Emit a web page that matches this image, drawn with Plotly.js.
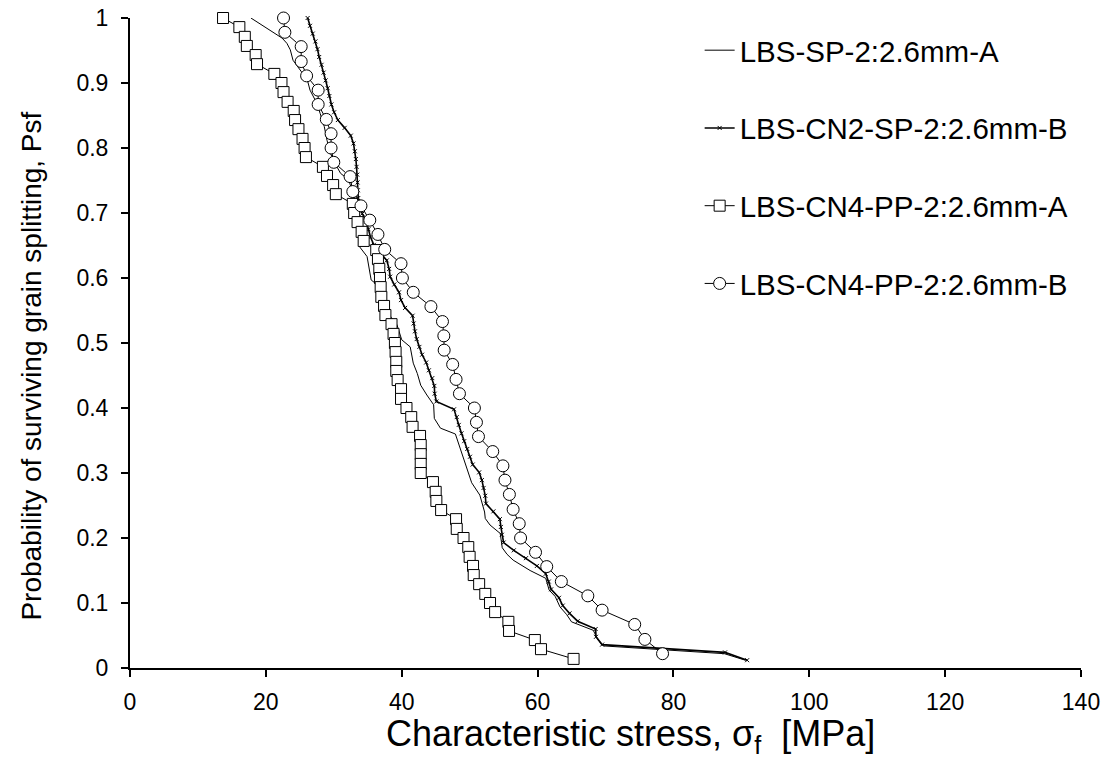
<!DOCTYPE html>
<html>
<head>
<meta charset="utf-8">
<script src="https://cdn.plot.ly/plotly-3.0.1.min.js"></script>
<style>html,body{margin:0;padding:0;background:#fff;}#chart{width:1110px;height:760px;}</style>
</head>
<body>
<div id="chart"></div>
<script>
// Series names
const seriesNames = ["LBS-SP-2:2.6mm-A", "LBS-CN2-SP-2:2.6mm-B", "LBS-CN4-PP-2:2.6mm-A", "LBS-CN4-PP-2:2.6mm-B"];
const xTitle = "Characteristic stress, σ<sub>f</sub>  [MPa]";
const yTitle = "Probability of surviving grain splitting, Psf";

// LBS-SP-2:2.6mm-A (plain line)
const spA_x = [17.8,22.4,23.1,23.6,24.0,24.8,26.1,26.5,27.5,28.0,28.6,29.0,29.5,30.2,31.0,32.2,32.7,33.2,33.5,33.8,34.9,35.5,36.1,37.3,38.4,39.3,40.0,41.25,41.7,42.3,42.8,43.7,44.7,44.8,45.7,47.9,48.4,49.4,50.3,51.5,52.2,52.3,53.0,54.5,54.8,55.5,56.4,58.9,61.2,61.7,62.6,63.3,64.3,65.0,68.2,68.9,69.7,87.5,90.6];
const spA_y = [1.0,0.969,0.961,0.951,0.935,0.923,0.905,0.889,0.869,0.853,0.833,0.812,0.792,0.776,0.761,0.751,0.733,0.717,0.68,0.648,0.633,0.597,0.592,0.565,0.540,0.528,0.505,0.494,0.469,0.453,0.435,0.420,0.405,0.384,0.369,0.360,0.344,0.315,0.285,0.266,0.240,0.230,0.220,0.207,0.185,0.175,0.166,0.150,0.138,0.120,0.110,0.094,0.082,0.071,0.058,0.043,0.034,0.022,0.012];

// LBS-CN2-SP-2:2.6mm-B (line with x markers)
const cn2B_x = [26.15,26.5,26.9,27.3,27.6,27.85,28.2,28.5,28.8,29.1,29.35,29.65,30.05,30.6,31.6,32.5,32.9,33.1,33.25,33.35,33.45,33.5,33.55,33.6,33.75,34.2,34.8,35.1,35.4,35.9,36.9,37.8,38.15,38.3,38.9,39.6,39.9,40.5,41.6,41.75,41.95,42.2,42.6,43.0,43.6,44.0,44.5,44.8,44.85,45.1,47.7,48.1,48.4,48.8,49.2,49.65,50.05,50.45,51.4,51.8,52.05,52.3,52.4,53.5,54.45,54.6,54.75,55.0,56.5,58.3,59.9,61.2,61.65,62.0,63.15,63.7,64.7,65.9,68.55,68.6,69.5,87.6,90.85];
const cn2B_y = [1.000,0.988,0.976,0.964,0.952,0.940,0.928,0.916,0.904,0.892,0.880,0.867,0.855,0.843,0.831,0.819,0.807,0.795,0.783,0.771,0.759,0.747,0.735,0.723,0.711,0.699,0.687,0.675,0.663,0.651,0.639,0.627,0.614,0.602,0.590,0.578,0.566,0.554,0.542,0.530,0.518,0.506,0.494,0.482,0.470,0.458,0.446,0.434,0.422,0.410,0.398,0.386,0.374,0.361,0.349,0.337,0.325,0.313,0.301,0.289,0.277,0.265,0.253,0.241,0.229,0.217,0.205,0.193,0.181,0.169,0.157,0.145,0.133,0.121,0.108,0.096,0.084,0.072,0.060,0.048,0.036,0.024,0.012];

// LBS-CN4-PP-2:2.6mm-A (squares)
const cn4A_x = [13.7,16.1,16.9,17.2,18.5,18.7,21.25,22.3,22.6,23.2,24.1,24.3,24.8,25.4,25.7,25.9,28.4,29.0,29.9,30.3,32.8,33.0,33.5,34.1,34.4,36.25,36.5,36.7,36.8,36.9,37.0,37.4,37.6,38.5,38.8,39.0,39.1,39.2,39.2,39.4,39.9,39.9,40.7,41.4,41.6,42.7,42.8,42.8,42.8,42.8,44.6,45.0,45.1,45.8,48.0,48.1,49.1,49.8,50.0,50.5,50.6,51.4,52.3,53.0,53.75,55.7,55.8,59.6,60.5,65.3];
const cn4A_y = [1.000,0.986,0.971,0.957,0.943,0.929,0.914,0.900,0.886,0.871,0.857,0.843,0.829,0.814,0.800,0.786,0.771,0.757,0.743,0.729,0.714,0.700,0.686,0.671,0.657,0.643,0.629,0.614,0.600,0.586,0.571,0.557,0.543,0.529,0.514,0.500,0.486,0.471,0.457,0.443,0.429,0.414,0.400,0.386,0.371,0.357,0.343,0.329,0.314,0.300,0.286,0.271,0.257,0.243,0.229,0.214,0.200,0.186,0.171,0.157,0.143,0.129,0.114,0.100,0.086,0.071,0.057,0.043,0.029,0.014];

// LBS-CN4-PP-2:2.6mm-B (circles)
const cn4B_x = [22.6,22.8,25.2,25.2,26.0,27.7,27.7,28.9,29.6,29.6,30.0,32.4,32.8,34.0,35.3,36.5,37.5,39.9,40.1,41.7,44.3,46.0,46.2,46.25,47.5,48.0,48.5,50.7,51.0,51.3,53.4,54.9,55.2,55.85,56.4,57.3,57.5,59.7,61.35,63.5,67.4,69.5,74.3,75.8,78.4];
const cn4B_y = [1.000,0.978,0.956,0.933,0.911,0.889,0.867,0.844,0.822,0.800,0.778,0.756,0.733,0.711,0.689,0.667,0.644,0.622,0.600,0.578,0.556,0.533,0.511,0.489,0.467,0.444,0.422,0.400,0.378,0.356,0.333,0.311,0.289,0.267,0.244,0.222,0.200,0.178,0.156,0.133,0.111,0.089,0.067,0.044,0.022];

// Axis ticks
const xTicks = [0,20,40,60,80,100,120,140];
const yTicks = [0,0.1,0.2,0.3,0.4,0.5,0.6,0.7,0.8,0.9,1];
const yTickText = ["0","0.1","0.2","0.3","0.4","0.5","0.6","0.7","0.8","0.9","1"];

const FONT = "Arial, 'Liberation Sans', sans-serif";

const traces = [
  {x: spA_x, y: spA_y, name: seriesNames[0], legendgroup: "g1", mode: "lines", cliponaxis: false,
   line: {color: "#000", width: 1}},
  {x: cn2B_x, y: cn2B_y, name: seriesNames[1], legendgroup: "g2", mode: "lines+markers", cliponaxis: false,
   line: {color: "#000", width: 1.6},
   marker: {symbol: "x-thin", size: 4, color: "#000", line: {color: "#000", width: 1}}},
  {x: cn4A_x, y: cn4A_y, name: seriesNames[2], legendgroup: "g3", mode: "lines+markers", cliponaxis: false,
   line: {color: "#000", width: 1},
   marker: {symbol: "square", size: 11, color: "#fff", line: {color: "#000", width: 1}}},
  {x: cn4B_x, y: cn4B_y, name: seriesNames[3], legendgroup: "g4", mode: "lines+markers", cliponaxis: false,
   line: {color: "#000", width: 1},
   marker: {symbol: "circle", size: 12, color: "#fff", line: {color: "#000", width: 1}}}
];

const layout = {
  width: 1110, height: 760,
  paper_bgcolor: "#fff", plot_bgcolor: "#fff",
  margin: {l: 129.5, r: 28.5, t: 18, b: 92},
  font: {family: FONT, color: "#000", size: 23},
  showlegend: true,
  legend: {
    x: 0.599, y: 0.99, xanchor: "left", yanchor: "top",
    font: {family: FONT, size: 29.5, color: "#000"},
    tracegroupgap: 36.4, traceorder: "grouped",
    bgcolor: "rgba(0,0,0,0)", itemwidth: 30
  },
  xaxis: {
    range: [0, 140], tickvals: xTicks, ticktext: xTicks.map(String),
    showgrid: false, zeroline: false, showline: true, linecolor: "#000", linewidth: 2,
    ticks: "outside", ticklen: 7, tickwidth: 2, tickcolor: "#000", ticklabelstandoff: 5,
    tickfont: {family: FONT, size: 23, color: "#000"}
  },
  yaxis: {
    range: [0, 1], tickvals: yTicks, ticktext: yTickText,
    showgrid: false, zeroline: false, showline: true, linecolor: "#000", linewidth: 2,
    ticks: "outside", ticklen: 7, tickwidth: 2, tickcolor: "#000", ticklabelstandoff: 8,
    tickfont: {family: FONT, size: 23, color: "#000"}
  },
  annotations: [
    {text: xTitle, xref: "paper", yref: "paper", x: (631 - 129.5) / 952, y: (668 - 736) / 650,
     xanchor: "center", yanchor: "middle", showarrow: false,
     font: {family: FONT, size: 36, color: "#000"}},
    {text: yTitle, xref: "paper", yref: "paper", x: (30 - 129.5) / 952, y: (668 - 366) / 650,
     xanchor: "center", yanchor: "middle", showarrow: false, textangle: -90,
     font: {family: FONT, size: 28, color: "#000"}}
  ]
};

Plotly.newPlot("chart", traces, layout, {displayModeBar: false, staticPlot: true});
</script>
</body>
</html>
